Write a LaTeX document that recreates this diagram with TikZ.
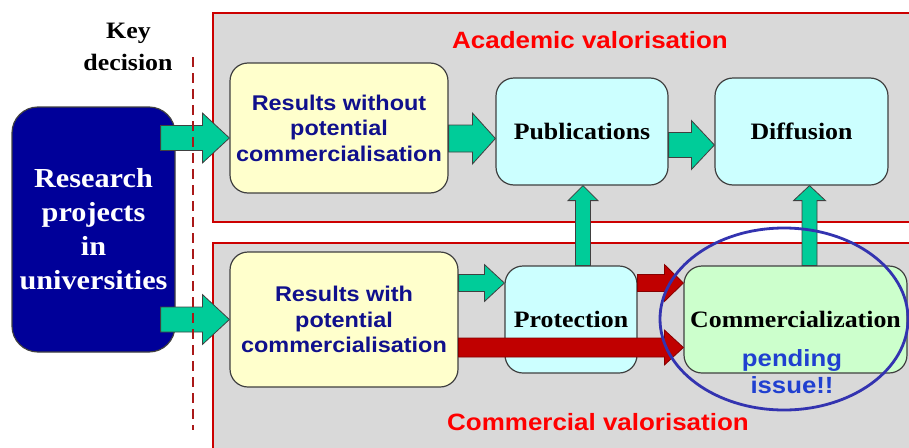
\documentclass[tikz,border=0pt]{standalone}
\usepackage{fontspec}
\setmainfont{Liberation Serif}[FakeStretch=1.1]
\newfontfamily\sansb{Liberation Sans}[FakeStretch=1.1]
\usetikzlibrary{calc,shapes.geometric}

\definecolor{panelgray}{RGB}{217,217,217}
\definecolor{panelred}{RGB}{204,0,0}
\definecolor{cutred}{RGB}{170,25,25}
\definecolor{navybox}{RGB}{0,0,153}
\definecolor{navytext}{RGB}{16,16,140}
\definecolor{paleyellow}{RGB}{255,255,204}
\definecolor{palecyan}{RGB}{204,255,255}
\definecolor{palegreen}{RGB}{204,255,204}
\definecolor{arrowgreen}{RGB}{0,204,153}
\definecolor{arrowred}{RGB}{192,0,0}
\definecolor{ringblue}{RGB}{51,51,176}
\definecolor{issueblue}{RGB}{32,64,208}
\definecolor{edgegray}{RGB}{64,64,64}

% block arrow: [style]{start}{tip}{shaft half width}{head half width}{head length}
\newcommand\blockarrow[6][]{%
  \coordinate (ba-s) at (#2);
  \coordinate (ba-t) at (#3);
  \coordinate (ba-h) at ($(ba-t)!#6!(ba-s)$);
  \draw[#1] ($(ba-s)!#4!90:(ba-t)$) -- ($(ba-h)!#4!90:(ba-t)$)
    -- ($(ba-h)!#5!90:(ba-t)$) -- (ba-t) -- ($(ba-h)!#5!-90:(ba-t)$)
    -- ($(ba-h)!#4!-90:(ba-t)$) -- ($(ba-s)!#4!-90:(ba-t)$) -- cycle;}

\begin{document}
\begin{tikzpicture}[x=1pt,y=-1pt,
  panel/.style={draw=panelred, line width=2pt, fill=panelgray},
  roundbox/.style={draw=edgegray, line width=1.2pt, rounded corners=18pt,
    align=center, inner sep=0pt},
  serifbox/.style={roundbox, font=\fontsize{23.5}{28}\selectfont\bfseries},
  sansbox/.style={roundbox, fill=paleyellow, text=navytext,
    font=\sansb\fontsize{21.3}{25.5}\selectfont\bfseries},
  greenarrow/.style={fill=arrowgreen, draw=edgegray, line width=0.8pt, line join=miter},
  redarrow/.style={fill=arrowred, draw=arrowred!70!black, line width=0.8pt, line join=miter},
  zonelabel/.style={text=red, font=\sansb\fontsize{23.6}{28}\selectfont\bfseries},
  keylabel/.style={font=\fontsize{23.5}{29}\selectfont\bfseries, inner sep=0pt},
]
\useasboundingbox (0,0) rectangle (909,447);

% the two valorisation zones
\filldraw[panel] (213,13) rectangle (925,222);
\filldraw[panel] (213,243) rectangle (925,465);
\node[zonelabel] (acad) at (590,40) {Academic valorisation};
\node[zonelabel] (commlabel) at (598,422) {Commercial valorisation};

% starting point
\node[roundbox, fill=navybox, text=white, rounded corners=26pt,
  minimum width=163, minimum height=245,
  font=\fontsize{27.5}{34}\selectfont\bfseries] (research) at (93.5,229.5)
  {Research\\projects\\in\\universities};
\node[keylabel] (key) at (128.5,33) {Key};
\node[keylabel] (decision) at (128,62) {decision};

% outcomes of research
\node[sansbox, minimum width=218, minimum height=130] (res1) at (339,128)
  {Results without\\potential\\commercialisation};
\node[sansbox, minimum width=228, minimum height=135] (res2) at (344,319.5)
  {Results with\\potential\\commercialisation};

% valorisation steps
\node[serifbox, fill=palecyan, minimum width=172, minimum height=107] (pub) at (582,131.5) {Publications};
\node[serifbox, fill=palecyan, minimum width=173, minimum height=107] (diff) at (801.5,131.5) {Diffusion};
\node[serifbox, fill=palecyan, minimum width=132, minimum height=107] (prot) at (571,319.5) {Protection};
\node[serifbox, fill=palegreen, minimum width=223, minimum height=107] (comm) at (795.5,319.5) {Commercialization};

% flows
\blockarrow[greenarrow]{$(research.east |- res1.west)+(-15,10)$}{$(res1.west)+(0,10)$}{12.5pt}{25pt}{27pt}
\blockarrow[greenarrow]{$(research.east |- res2.west)+(-15,0)$}{res2.west}{12.5pt}{25pt}{27pt}
\blockarrow[greenarrow]{$(res1.east |- pub.west)+(0,7)$}{$(pub.west)+(0,7)$}{13.5pt}{25.5pt}{23pt}
\blockarrow[greenarrow]{$(pub.east)+(0,13.5)$}{$(diff.west)+(0,13.5)$}{12.5pt}{24.5pt}{23pt}
\blockarrow[greenarrow]{$(res2.east |- prot.west)+(0,-36.5)$}{$(prot.west)+(0,-36.5)$}{8.5pt}{18.5pt}{20pt}
\blockarrow[greenarrow]{$(prot.north -| pub.south)+(1,0)$}{$(pub.south)+(1,0)$}{7.5pt}{15pt}{15pt}
\blockarrow[greenarrow]{$(comm.north -| diff.south)+(8,0)$}{$(diff.south)+(8,0)$}{7.5pt}{16pt}{15pt}
\blockarrow[redarrow]{$(prot.east)+(0,-36.5)$}{$(comm.west)+(0,-36.5)$}{8.5pt}{18.5pt}{19pt}
\blockarrow[redarrow]{$(res2.east)+(0,28)$}{$(comm.west)+(0,28)$}{9.5pt}{17.5pt}{19pt}

% decision line
\coordinate (cuttop) at (193,57);
\coordinate (cutbottom) at (193,430);
\draw[cutred, line width=2.5pt, dash pattern=on 10pt off 6pt] (cuttop) -- (cutbottom);

% open issue
\node[draw=ringblue, line width=2.8pt, ellipse, minimum width=248, minimum height=182] (ring) at (784,319) {};
\node[text=issueblue, font=\sansb\fontsize{23.4}{27}\selectfont\bfseries, align=center] (issue) at (792,371.5)
  {pending\\issue!!};
\end{tikzpicture}
\end{document}
